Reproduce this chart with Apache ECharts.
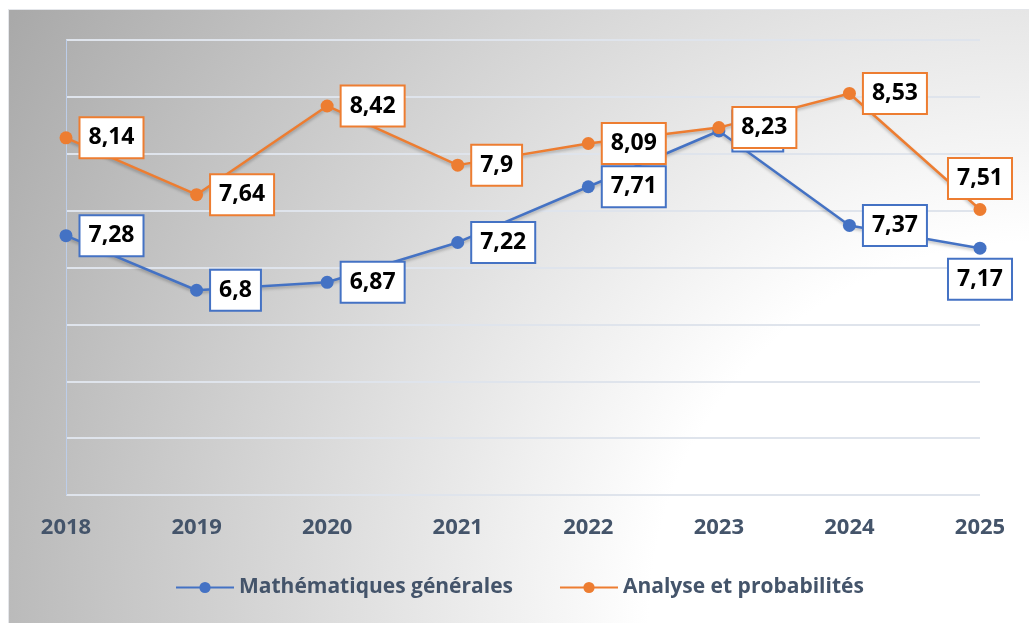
<!DOCTYPE html>
<html>
<head>
<meta charset="utf-8">
<script src="https://cdn.jsdelivr.net/npm/echarts@6/dist/echarts.min.js"></script>
<style>
  html, body { margin: 0; padding: 0; background: #ffffff; }
  #bg { position: absolute; left: 8px; top: 9px; width: 1021px; height: 614px;
        background: radial-gradient(circle at 100% 100%, #ffffff 380px, #a9a9a9 1184px);
        border-top: 1px solid #e4e6ea; border-left: 1px solid #e4e6ea; box-sizing: border-box; }
  #chart { position: absolute; left: 0; top: 0; width: 1029px; height: 623px; }
</style>
</head>
<body>
<div id="bg"></div>
<div id="chart"></div>
<script>
const years = ['2018', '2019', '2020', '2021', '2022', '2023', '2024', '2025'];
const mathGen = [7.28, 6.8, 6.87, 7.22, 7.71, 8.2, 7.37, 7.17];
const analyse = [8.14, 7.64, 8.42, 7.9, 8.09, 8.23, 8.53, 7.51];
const seriesNames = ['Mathématiques générales', 'Analyse et probabilités'];

const BLUE = '#4472C4';
const ORANGE = '#ED7D31';
const FONT = 'Open Sans';

function fmt(p) { return String(p.value).replace('.', ','); }

function labelStyle(color) {
  return {
    show: true,
    position: 'right',
    distance: 8,
    formatter: fmt,
    fontFamily: FONT,
    fontSize: 23,
    fontWeight: 'bold',
    color: '#000',
    backgroundColor: '#ffffff',
    borderColor: color,
    borderWidth: 2,
    padding: [8, 8, 8, 8]
  };
}

function lineSeries(name, values, color, lastPos) {
  return {
    name: name,
    type: 'line',
    symbol: 'circle',
    symbolSize: 13,
    data: values.map((v, i) => i === values.length - 1
      ? { value: v, label: { position: lastPos, distance: 5 } }
      : v),
    itemStyle: { color: color },
    lineStyle: { color: color, width: 2.5, shadowColor: 'rgba(0,0,0,0.25)', shadowBlur: 3, shadowOffsetY: 2 },
    label: labelStyle(color),
    emphasis: { disabled: true },
    animation: false
  };
}

const chart = echarts.init(document.getElementById('chart'), null, { renderer: 'canvas' });
chart.setOption({
  backgroundColor: 'transparent',
  animation: false,
  grid: { left: 66, right: 49, top: 40, bottom: 128, containLabel: false },
  legend: {
    data: seriesNames,
    left: 175,
    top: 577,
    padding: 0,
    itemWidth: 58,
    itemHeight: 14,
    itemGap: 46,
    textStyle: { fontFamily: FONT, fontSize: 21, fontWeight: 'bold', color: '#44546a' }
  },
  xAxis: {
    type: 'category',
    data: years,
    boundaryGap: false,
    axisLine: { show: false },
    axisTick: { show: false },
    axisLabel: { margin: 22, fontFamily: FONT, fontSize: 22, fontWeight: 'bold', color: '#44546a' },
    splitLine: { show: false }
  },
  yAxis: {
    type: 'value',
    min: 5,
    max: 9,
    interval: 0.5,
    axisLabel: { show: false },
    axisTick: { show: false },
    axisLine: { show: true, lineStyle: { color: '#bccde9', width: 1 } },
    splitLine: { show: true, lineStyle: { color: '#dfe4ec', width: 2 } }
  },
  series: [
    lineSeries(seriesNames[0], mathGen, BLUE, 'bottom'),
    lineSeries(seriesNames[1], analyse, ORANGE, 'top')
  ]
});
</script>
</body>
</html>
